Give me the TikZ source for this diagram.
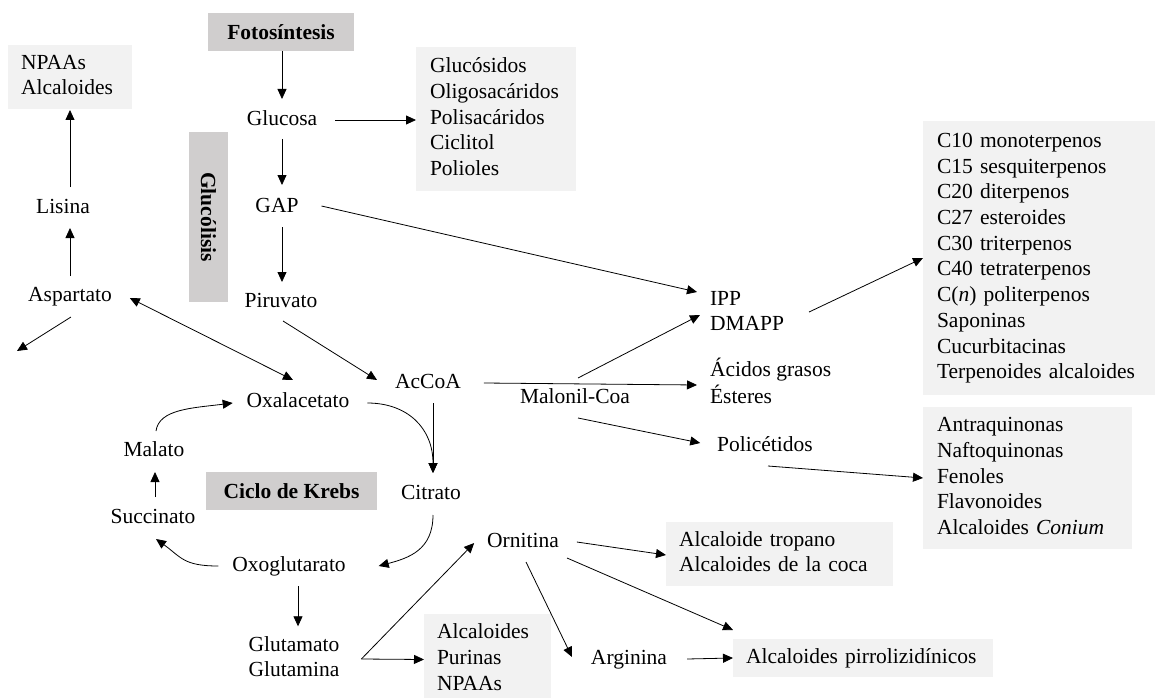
\documentclass[tikz,border=0pt]{standalone}
\usepackage{fontspec}
\setmainfont{Liberation Serif}
\usetikzlibrary{arrows.meta,calc}
\definecolor{darkbox}{HTML}{D0CECE}
\definecolor{lightbox}{HTML}{F2F2F2}
\begin{document}
\begin{tikzpicture}[x=1pt,y=-1pt,
  every node/.style={font=\fontsize{21.5}{25.7}\selectfont},
  t/.style={inner sep=0pt, outer sep=0pt, align=left},
  lbox/.style={fill=lightbox, anchor=north west, inner xsep=14pt, inner ysep=0pt, outer sep=0pt, align=left},
  dbox/.style={fill=darkbox, inner sep=0pt, outer sep=0pt, font=\fontsize{21.5}{25.7}\selectfont\bfseries},
  arr/.style={-{Triangle[length=10pt,width=9pt]}, line width=0.8pt},
  arrb/.style={{Triangle[length=10pt,width=9pt]}-{Triangle[length=10pt,width=9pt]}, line width=0.8pt}]
\clip (0,0) rectangle (1162,698);

% dark boxes
\node[dbox, minimum width=146pt, minimum height=38pt] (foto) at (281,32) {Fotosíntesis};
\node[dbox, rotate=-90, minimum width=170pt, minimum height=39pt] (glucolisis) at (208.5,217) {Glucólisis};
\node[dbox, minimum width=171pt, minimum height=38pt] (krebs) at (291.5,491) {Ciclo de Krebs};

% light boxes
\node[lbox, inner xsep=13pt, text width=98pt, minimum height=64pt] (npaa) at (8,45) {\strut NPAAs\\\mbox{Alcaloides}\strut};
\node[lbox, text width=132pt, minimum height=144pt] (gluc) at (416,47) {\strut Glucósidos\\\mbox{Oligosacáridos}\\\mbox{Polisacáridos}\\Ciclitol\\Polioles\strut};
\node[lbox, text width=204pt, minimum height=274pt] (terp) at (923,121) {\strut\mbox{C10 monoterpenos}\\\mbox{C15 sesquiterpenos}\\\mbox{C20 diterpenos}\\\mbox{C27 esteroides}\\\mbox{C30 triterpenos}\\\mbox{C40 tetraterpenos}\\\mbox{C(\textit{n}) politerpenos}\\Saponinas\\Cucurbitacinas\\\mbox{Terpenoides alcaloides}\strut};
\node[lbox, text width=181pt, minimum height=142pt] (antra) at (923,407) {\strut Antraquinonas\\Naftoquinonas\\Fenoles\\Flavonoides\\\mbox{Alcaloides \textit{Conium}}\strut};
\node[lbox, inner xsep=13pt, text width=201pt, minimum height=64pt] (tropano) at (666,522) {\strut\mbox{Alcaloide tropano}\\\mbox{Alcaloides de la coca}\strut};
\node[lbox, inner xsep=13pt, text width=234pt, minimum height=38pt] (pirrol) at (733,639) {\strut\mbox{Alcaloides pirrolizidínicos}\strut};
\node[lbox, inner xsep=13pt, text width=101pt, minimum height=91pt] (alk3) at (424,614) {\strut\mbox{Alcaloides}\\Purinas\\NPAAs\strut};

% text nodes
\node[t] (glucosa) at (282,120) {\strut Glucosa};
\node[t] (gap) at (277,207) {\strut GAP};
\node[t] (piruvato) at (281,302) {\strut Piruvato};
\node[t] (lisina) at (63,208) {\strut Lisina};
\node[t] (aspartato) at (70,296) {\strut Aspartato};
\node[t] (oxal) at (298,402) {\strut Oxalacetato};
\node[t] (acoa) at (428,383) {\strut AcCoA};
\node[t] (malato) at (154,451) {\strut Malato};
\node[t] (citrato) at (431,494) {\strut Citrato};
\node[t] (succ) at (153,518) {\strut Succinato};
\node[t] (oxog) at (289,566) {\strut Oxoglutarato};
\node[t] (glut) at (294,659) {\strut Glutamato\\Glutamina\strut};
\node[t] (ornitina) at (523,542) {\strut Ornitina};
\node[t] (arginina) at (629,659) {\strut Arginina};
\node[t] (malonil) at (575,398) {\strut Malonil-Coa};
\node[t, anchor=west] (ipp) at (710,313) {\strut IPP\\DMAPP\strut};
\node[t, anchor=west] (acidos) at (710,385) {\strut Ácidos grasos\\Ésteres\strut};
\node[t] (polic) at (765,446) {\strut Policétidos};
\coordinate (aspout) at (17,351);

% connectors
\draw[arr] (foto.south -| glucosa) -- ($(glucosa)+(0,-21)$);
\draw[arr] ($(glucosa)+(53,0)$) -- (gluc.west |- glucosa);
\draw[arr] ($(glucosa)+(0,19)$) -- ($(gap)+(5,-22)$);
\draw[arr] ($(gap)+(5,20)$) -- ($(piruvato)+(1,-20)$);
\draw[arr] ($(gap.east)+(23,-1)$) -- ($(ipp.west)+(-13,-21)$);
\draw[arr] ($(malonil)+(3,-20)$) -- ($(ipp.west)+(-10,2)$);
\draw[arr] ($(acoa.east)+(23,0)$) -- ($(acidos.west)+(-13,0)$);
\draw[arr] ($(malonil)+(3,20)$) -- ($(polic.west)+(-17,-3)$);
\draw[arr] ($(polic)+(3,20)$) -- (antra.west);
\draw[arr] ($(ipp.east)+(25,-1)$) -- (terp.west);
\draw[arr] ($(piruvato)+(2,19)$) -- ($(acoa)+(-51,-3)$);
\draw[arrb] ($(aspartato.east)+(18,2)$) -- ($(oxal)+(-5,-22)$);
\draw[arr] ($(aspartato)+(0,-20)$) -- ($(lisina)+(7,20)$);
\draw[arr] ($(lisina)+(7,-21)$) -- ($(npaa.south)+(0,1)$);
\draw[arr] ($(aspartato)+(1,21)$) -- (aspout);
\draw[arr] ($(malato)+(2,-20)$) .. controls +(3,-22) and +(-40,5) .. ($(oxal.west)+(-14,1)$);
\draw[arr] ($(oxal.east)+(18,1)$) .. controls +(40,0) and +(0,-45) .. ($(citrato)+(2,-21)$);
\draw[arr] ($(acoa)+(5,20)$) -- ($(citrato)+(2,-21)$);
\draw[arr] ($(citrato)+(2,21)$) .. controls +(0,35) and +(30,-8) .. ($(oxog.east)+(33,0)$);
\draw[arr] ($(oxog.west)+(-14,0)$) .. controls +(-35,0) and +(25,18) .. ($(succ)+(3,21)$);
\draw[arr] ($(succ)+(2,-21)$) -- ($(malato)+(1,21)$);
\draw[arr] ($(oxog)+(9,20)$) -- ($(glut.north)+(4,-7)$);
\draw[arr] ($(glut.east)+(22,0)$) -- ($(ornitina.west)+(-13,1)$);
\draw[arr] ($(glut.east)+(22,0)$) -- (alk3.west);
\draw[arr] ($(ornitina.east)+(18,0)$) -- ($(tropano.west)+(0,1)$);
\draw[arr] ($(ornitina)+(44,16)$) -- ($(pirrol.north west)+(0,-9)$);
\draw[arr] ($(ornitina)+(3,20)$) -- ($(arginina.west)+(-19,-2)$);
\draw[arr] ($(arginina.east)+(20,0)$) -- (pirrol.west);
\end{tikzpicture}
\end{document}
